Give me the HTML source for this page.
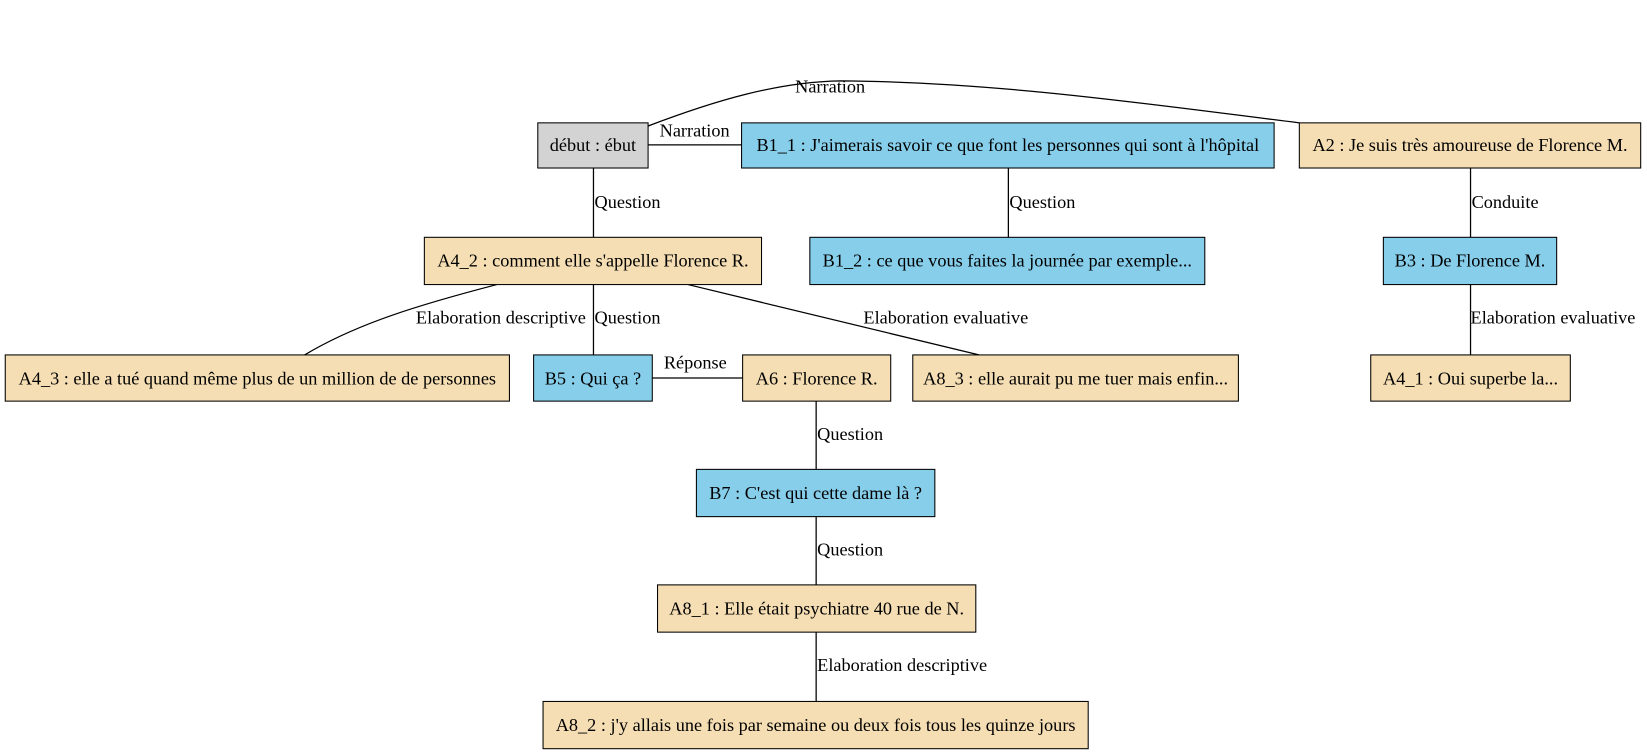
<!DOCTYPE html>
<html><head><meta charset="utf-8"><style>html,body{margin:0;padding:0;background:#fff}svg{display:block}</style></head><body>
<svg width="1647" height="755" viewBox="0 0 1568 719" preserveAspectRatio="none" xmlns="http://www.w3.org/2000/svg" font-family="'Liberation Serif', serif" font-size="17.4">
<g fill="none" stroke="#000" stroke-width="1.2">
<path d="M617,120 C680,96 740,78 800,77 C950,78 1100,100 1237,117"/>
<line x1="617" y1="138" x2="706" y2="138"/>
<line x1="565" y1="160" x2="565" y2="226"/>
<line x1="960" y1="160" x2="960" y2="226"/>
<line x1="1400" y1="160" x2="1400" y2="226"/>
<path d="M473,271 C400,290 340,308 290,338"/>
<line x1="565" y1="271" x2="565" y2="338"/>
<line x1="655" y1="271" x2="932" y2="338"/>
<line x1="1400" y1="271" x2="1400" y2="338"/>
<line x1="621" y1="360" x2="707" y2="360"/>
<line x1="777" y1="382" x2="777" y2="447"/>
<line x1="777" y1="492" x2="777" y2="557"/>
<line x1="777" y1="602" x2="777" y2="668"/>
</g>
<g stroke="#000" stroke-width="1">
<rect x="512" y="117" width="105" height="43" fill="#d3d3d3"/>
<rect x="706" y="117" width="507" height="43" fill="#87ceeb"/>
<rect x="1237" y="117" width="325" height="43" fill="#f5deb3"/>
<rect x="404" y="226" width="321" height="45" fill="#f5deb3"/>
<rect x="771" y="226" width="376" height="45" fill="#87ceeb"/>
<rect x="1317" y="226" width="165" height="45" fill="#87ceeb"/>
<rect x="5" y="338" width="480" height="44" fill="#f5deb3"/>
<rect x="508" y="338" width="113" height="44" fill="#87ceeb"/>
<rect x="707" y="338" width="141" height="44" fill="#f5deb3"/>
<rect x="869" y="338" width="310" height="44" fill="#f5deb3"/>
<rect x="1305" y="338" width="190" height="44" fill="#f5deb3"/>
<rect x="663" y="447" width="227" height="45" fill="#87ceeb"/>
<rect x="626" y="557" width="303" height="45" fill="#f5deb3"/>
<rect x="517" y="668" width="519" height="45" fill="#f5deb3"/>
</g>
<g fill="#000" text-anchor="middle">
<text x="564.5" y="144">début : ébut</text>
<text x="959.5" y="144">B1_1 : J'aimerais savoir ce que font les personnes qui sont à l'hôpital</text>
<text x="1399.5" y="144">A2 : Je suis très amoureuse de Florence M.</text>
<text x="564.5" y="254">A4_2 : comment elle s'appelle Florence R.</text>
<text x="959" y="254">B1_2 : ce que vous faites la journée par exemple...</text>
<text x="1399.5" y="254">B3 : De Florence M.</text>
<text x="245" y="366">A4_3 : elle a tué quand même plus de un million de de personnes</text>
<text x="564.5" y="366">B5 : Qui ça ?</text>
<text x="777.5" y="366">A6 : Florence R.</text>
<text x="1024" y="366">A8_3 : elle aurait pu me tuer mais enfin...</text>
<text x="1400" y="366">A4_1 : Oui superbe la...</text>
<text x="776.5" y="475">B7 : C'est qui cette dame là ?</text>
<text x="777.5" y="585">A8_1 : Elle était psychiatre 40 rue de N.</text>
<text x="776.5" y="696">A8_2 : j'y allais une fois par semaine ou deux fois tous les quinze jours</text>
</g>
<g fill="#000">
<text x="757" y="88">Narration</text>
<text x="628" y="130">Narration</text>
<text x="566" y="198">Question</text>
<text x="961" y="198">Question</text>
<text x="1401" y="198">Conduite</text>
<text x="396" y="308">Elaboration descriptive</text>
<text x="566" y="308">Question</text>
<text x="822" y="308">Elaboration evaluative</text>
<text x="1400" y="308">Elaboration evaluative</text>
<text x="632" y="351">Réponse</text>
<text x="778" y="419">Question</text>
<text x="778" y="529">Question</text>
<text x="778" y="639">Elaboration descriptive</text>
</g>
</svg>
</body></html>
